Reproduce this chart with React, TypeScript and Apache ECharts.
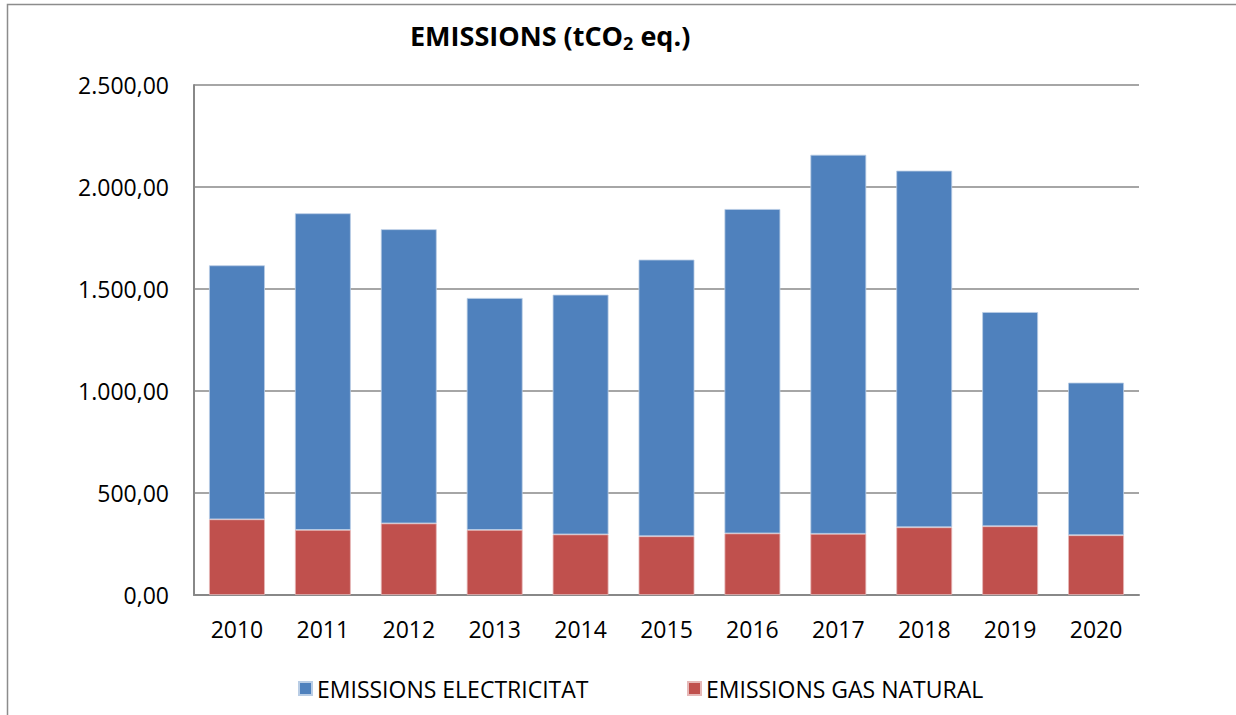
import React, { useEffect, useRef } from "react";
import * as echarts from "echarts";

const years = ["2010", "2011", "2012", "2013", "2014", "2015", "2016", "2017", "2018", "2019", "2020"];
const gasNatural = [371, 319, 351, 319, 297, 288, 302, 300, 332, 337, 293];
const electricitat = [1245, 1552, 1442, 1137, 1175, 1356, 1590, 1858, 1748, 1050, 748];
const yTicks = { min: 0, max: 2500, interval: 500 };

const FONT = "'Open Sans', 'Liberation Sans', sans-serif";

function fmt(v: number): string {
  const fixed = v.toFixed(2);
  const [intPart, dec] = fixed.split(".");
  const withDots = intPart.replace(/\B(?=(\d{3})+(?!\d))/g, ".");
  return withDots + "," + dec;
}

export default function App() {
  const ref = useRef<HTMLDivElement>(null);
  useEffect(() => {
    document.body.style.margin = "0";
    const chart = echarts.init(ref.current!, null, { renderer: "svg" });
    chart.setOption({
      animation: false,
      backgroundColor: "#ffffff",
      graphic: [
        {
          type: "rect",
          shape: { x: 7.5, y: 4.5, width: 1400, height: 900 },
          style: { fill: "none", stroke: "#8c8c8c", lineWidth: 1.5 },
          silent: true,
          z: -10,
        },
      ],
      title: {
        text: "{t|EMISSIONS (tCO}{s|2}{t| eq.)}",
        left: 405,
        top: 4,
        textStyle: {
          rich: {
            t: { fontFamily: FONT, fontWeight: "bold", fontSize: 27, color: "#000", height: 36 },
            s: { fontFamily: FONT, fontWeight: "bold", fontSize: 18, color: "#000", padding: [16, 0, 0, 0], height: 36 },
          },
        },
      },
      grid: { left: 194, top: 85, right: 97, bottom: 120, containLabel: false },
      legend: [
        {
          data: ["EMISSIONS ELECTRICITAT"],
          left: 293,
          top: 672,
          icon: "rect",
          itemWidth: 13,
          itemHeight: 13,
          itemGap: 5,
          textStyle: { fontFamily: FONT, fontSize: 23, color: "#000" },
        },
        {
          data: ["EMISSIONS GAS NATURAL"],
          left: 682,
          top: 672,
          icon: "rect",
          itemWidth: 13,
          itemHeight: 13,
          itemGap: 5,
          textStyle: { fontFamily: FONT, fontSize: 23, color: "#000" },
        },
      ],
      xAxis: {
        type: "category",
        data: years,
        axisLine: { show: true, lineStyle: { color: "#888888", width: 2 } },
        axisTick: { show: false },
        axisLabel: { fontFamily: FONT, fontSize: 23, color: "#000", margin: 22 },
      },
      yAxis: {
        type: "value",
        min: yTicks.min,
        max: yTicks.max,
        interval: yTicks.interval,
        axisLine: { show: true, lineStyle: { color: "#888888", width: 2 } },
        axisTick: { show: false },
        splitLine: { show: true, lineStyle: { color: "#888888", width: 1.5 } },
        axisLabel: { fontFamily: FONT, fontSize: 23, color: "#000", margin: 25, formatter: (v: number) => fmt(v) },
      },
      series: [
        {
          name: "EMISSIONS GAS NATURAL",
          type: "bar",
          stack: "total",
          data: gasNatural,
          barWidth: "65%",
          itemStyle: { color: "#C0504D", borderColor: "#e6b8b7", borderWidth: 0.8 },
        },
        {
          name: "EMISSIONS ELECTRICITAT",
          type: "bar",
          stack: "total",
          data: electricitat,
          barWidth: "65%",
          itemStyle: { color: "#4F81BD", borderColor: "#b9cde5", borderWidth: 0.8 },
        },
      ],
    });
    return () => chart.dispose();
  }, []);
  return <div ref={ref} style={{ position: "absolute", left: 0, top: 0, width: 1236, height: 715 }} />;
}
